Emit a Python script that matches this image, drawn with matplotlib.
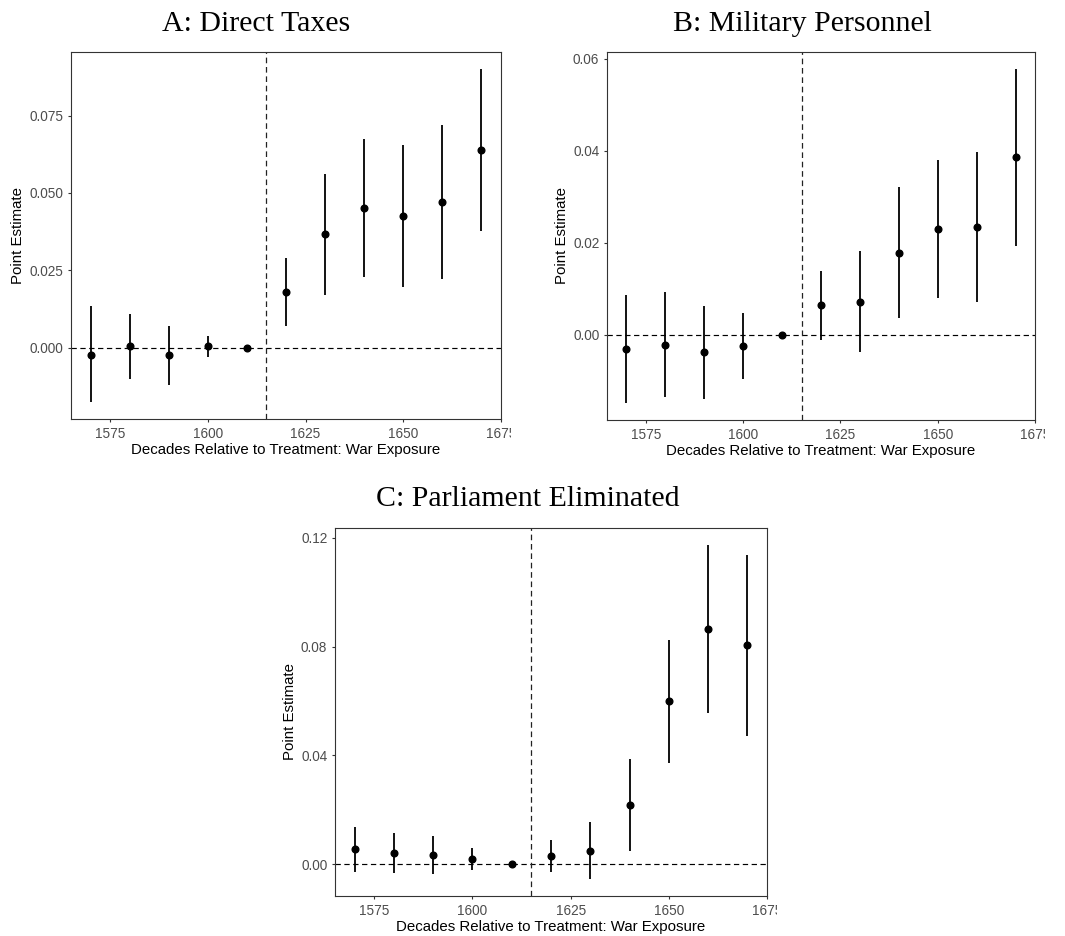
import matplotlib
matplotlib.use("Agg")
import matplotlib.pyplot as plt
from matplotlib.transforms import Bbox, TransformedBbox

# ---------------- data ----------------
decades = [1570, 1580, 1590, 1600, 1610, 1620, 1630, 1640, 1650, 1660, 1670]

taxes_est = [-0.0023, 0.0004, -0.0025, 0.0004, 0.0, 0.0180, 0.0366, 0.0452, 0.0425, 0.0470, 0.0640]
taxes_lo = [-0.0177, -0.0101, -0.0121, -0.0029, 0.0, 0.0071, 0.0170, 0.0228, 0.0196, 0.0222, 0.0378]
taxes_hi = [0.0133, 0.0108, 0.0071, 0.0037, 0.0, 0.0290, 0.0563, 0.0676, 0.0654, 0.0719, 0.0902]

mil_est = [-0.0031, -0.0022, -0.0038, -0.0024, 0.0, 0.0064, 0.0071, 0.0178, 0.0230, 0.0234, 0.0386]
mil_lo = [-0.0149, -0.0136, -0.0139, -0.0096, 0.0, -0.0012, -0.0038, 0.0036, 0.0080, 0.0070, 0.0193]
mil_hi = [0.0086, 0.0092, 0.0062, 0.0047, 0.0, 0.0138, 0.0181, 0.0320, 0.0380, 0.0398, 0.0578]

parl_est = [0.0055, 0.0042, 0.0034, 0.0020, 0.0, 0.0031, 0.0050, 0.0219, 0.0599, 0.0865, 0.0805]
parl_lo = [-0.0027, -0.0032, -0.0034, -0.0020, 0.0, -0.0029, -0.0055, 0.0049, 0.0373, 0.0557, 0.0473]
parl_hi = [0.0137, 0.0115, 0.0104, 0.0059, 0.0, 0.0091, 0.0156, 0.0387, 0.0825, 0.1174, 0.1136]

treatment_year = 1615
x_ticks = [1575, 1600, 1625, 1650, 1675]

taxes_yticks = [0.0, 0.025, 0.05, 0.075]
taxes_ylabels = ["0.000", "0.025", "0.050", "0.075"]
mil_yticks = [0.0, 0.02, 0.04, 0.06]
mil_ylabels = ["0.00", "0.02", "0.04", "0.06"]
parl_yticks = [0.0, 0.04, 0.08, 0.12]
parl_ylabels = ["0.00", "0.04", "0.08", "0.12"]

titles = ["A: Direct Taxes", "B: Military Personnel", "C: Parliament Eliminated"]
xlabel = "Decades Relative to Treatment: War Exposure"
ylabel = "Point Estimate"

# ---------------- figure ----------------
W, H = 1065, 936
fig = plt.figure(figsize=(W / 100, H / 100), dpi=100)
fig.patch.set_facecolor("white")

SANS = "Liberation Sans"
SERIF = "Liberation Serif"
FRAME = "#333333"
TICKTXT = "#4D4D4D"


def px_axes(l, t, r, b):
    return fig.add_axes([l / W, 1 - b / H, (r - l) / W, (b - t) / H])


def panel(ax, est, lo, hi, yticks, ylabels):
    ax.axhline(0, color="black", lw=0.85, dashes=(4.5, 3), zorder=1)
    ax.axvline(treatment_year, color="#222222", lw=0.9, dashes=(4.5, 3), zorder=1)
    ax.vlines(decades, lo, hi, color="black", lw=1.3, zorder=2)
    ax.plot(decades, est, "o", color="black", ms=4.8, zorder=3)
    ax.margins(x=0.05, y=0.05)
    ax.set_xticks(x_ticks)
    ax.set_xticklabels([str(v) for v in x_ticks])
    ax.set_yticks(yticks)
    ax.set_yticklabels(ylabels)
    for sp in ax.spines.values():
        sp.set_color(FRAME)
        sp.set_linewidth(0.8)
    ax.tick_params(axis="both", direction="out", length=2.5, width=0.8,
                   color=FRAME, labelcolor=TICKTXT, labelsize=9.8)
    ax.tick_params(axis="x", pad=3.0)
    ax.tick_params(axis="y", pad=3.0)
    for lab in ax.get_xticklabels() + ax.get_yticklabels():
        lab.set_family(SANS)
    ax.set_xlabel(xlabel, family=SANS, fontsize=10.8, color="black", labelpad=1.5)
    ax.set_ylabel(ylabel, family=SANS, fontsize=10.8, color="black", labelpad=3)
    ax.grid(False)


axA = px_axes(71, 52, 501, 419)
axB = px_axes(607, 52, 1035, 420)
axC = px_axes(335, 528, 767, 896)

panel(axA, taxes_est, taxes_lo, taxes_hi, taxes_yticks, taxes_ylabels)
panel(axB, mil_est, mil_lo, mil_hi, mil_yticks, mil_ylabels)
panel(axC, parl_est, parl_lo, parl_hi, parl_yticks, parl_ylabels)

fig.text(256 / W, 1 - 31 / H, titles[0], family=SERIF, fontsize=21.5,
         ha="center", va="baseline", color="black")
fig.text(802 / W, 1 - 31 / H, titles[1], family=SERIF, fontsize=21.5,
         ha="center", va="baseline", color="black")
fig.text(528 / W, 1 - 506 / H, titles[2], family=SERIF, fontsize=21.5,
         ha="center", va="baseline", color="black")

# clip the rightmost x tick label like the reference (cut at the panel edge)
fig.canvas.draw()
for ax, right in ((axA, 501), (axB, 1035), (axC, 767)):
    lab = ax.get_xticklabels()[-1]
    bb = TransformedBbox(Bbox([[0, 0], [(right + 10) / W, 1]]), fig.transFigure)
    lab.set_clip_box(bb)
    lab.set_clip_on(True)

fig.savefig("out.png", dpi=100, facecolor="white")
